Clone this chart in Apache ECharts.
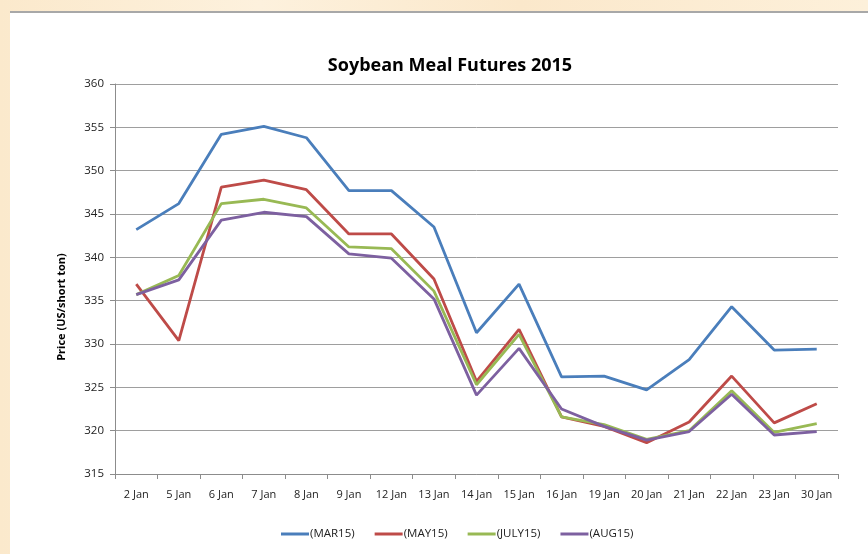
<!DOCTYPE html>
<html>
<head>
<meta charset="utf-8">
<script src="https://cdn.jsdelivr.net/npm/echarts@6/dist/echarts.min.js"></script>
<style>
html,body{margin:0;padding:0;width:868px;height:554px;overflow:hidden;
background:linear-gradient(90deg,#fbe9cc,#fdf1dd 30%,#fbe8cb 60%,#fdf0da);}
#frame{position:absolute;left:10px;top:11px;width:858px;height:543px;background:#fff;border-top:2px solid #a8a8a8;}
#chart{position:absolute;left:0;top:0;width:868px;height:554px;}
</style>
</head>
<body>
<div id="frame"></div>
<div id="chart"></div>
<script>
const categories = ['2 Jan','5 Jan','6 Jan','7 Jan','8 Jan','9 Jan','12 Jan','13 Jan','14 Jan','15 Jan','16 Jan','19 Jan','20 Jan','21 Jan','22 Jan','23 Jan','30 Jan'];
const mar15 = [343.2,346.2,354.2,355.1,353.8,347.7,347.7,343.5,331.3,336.9,326.2,326.3,324.7,328.2,334.3,329.3,329.4];
const may15 = [336.9,330.4,348.1,348.9,347.8,342.7,342.7,337.5,325.7,331.7,321.6,320.5,318.6,321.0,326.3,320.9,323.1];
const july15 = [335.7,337.9,346.2,346.7,345.7,341.2,341.0,336.1,325.3,331.1,321.6,320.7,319.0,320.0,324.6,319.8,320.8];
const aug15 = [335.7,337.4,344.3,345.2,344.7,340.4,339.9,335.2,324.1,329.5,322.5,320.5,318.9,319.9,324.2,319.5,319.9];
const seriesNames = ['(MAR15)','(MAY15)','(JULY15)','(AUG15)'];
const colors = ['#4a7ebb','#be4b48','#98b954','#7d60a0'];
const yTicks = {min:315,max:360,interval:5};

const chart = echarts.init(document.getElementById('chart'), null, {renderer:'canvas'});
const font = 'Open Sans, Noto Sans, sans-serif';
const data = [mar15, may15, july15, aug15];
chart.setOption({
  backgroundColor:'transparent',
  animation:false,
  color: colors,
  title:{
    text:'Soybean Meal Futures 2015',
    left:445, top:52, textAlign:'center',
    textStyle:{fontFamily:font,fontSize:18,fontWeight:'bold',color:'#000'}
  },
  grid:{left:115,right:30,top:84,bottom:80,containLabel:false},
  legend:{
    data:seriesNames,
    top:523,
    left:276,
    itemWidth:28,itemHeight:3,itemGap:20,
    icon:'rect',
    textStyle:{fontFamily:font,fontSize:11.5,color:'#222',padding:[0,0,0,-4]}
  },
  xAxis:{
    type:'category',
    data:categories,
    boundaryGap:true,
    axisLine:{lineStyle:{color:'#8c8c8c',width:1}},
    axisTick:{show:true,alignWithLabel:false,length:5,lineStyle:{color:'#8c8c8c'}},
    axisLabel:{fontFamily:font,fontSize:11,color:'#222',margin:15,interval:0}
  },
  yAxis:{
    type:'value',
    min:yTicks.min,max:yTicks.max,interval:yTicks.interval,
    axisLine:{show:true,lineStyle:{color:'#8c8c8c',width:1}},
    axisTick:{show:true,length:5,lineStyle:{color:'#8c8c8c'}},
    splitLine:{lineStyle:{color:'#9e9e9e',width:1}},
    axisLabel:{fontFamily:font,fontSize:11.5,color:'#222',margin:11}
  },
  graphic:[{
    type:'text',
    x:62,y:307,rotation:Math.PI/2,
    style:{text:'Price (US/short ton)',fontFamily:font,fontSize:11,fontWeight:'bold',fill:'#000',
      align:'center',verticalAlign:'middle'}
  }],
  series: seriesNames.map((n,i)=>({
    name:n,type:'line',data:data[i],showSymbol:false,symbol:'none',
    lineStyle:{width:2.8,color:colors[i]},
    itemStyle:{color:colors[i]}
  }))
});
</script>
</body>
</html>
